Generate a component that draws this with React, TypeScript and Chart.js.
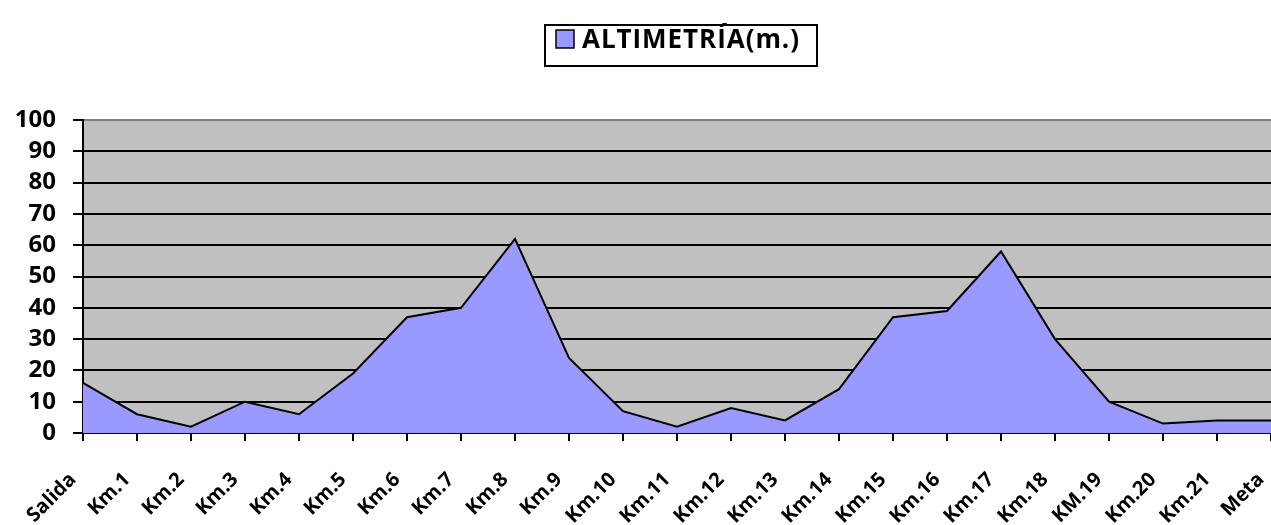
import React, { useEffect, useRef } from "react";
import { Chart, registerables } from "chart.js";

Chart.register(...registerables);

const categories = [
  "Salida", "Km.1", "Km.2", "Km.3", "Km.4", "Km.5", "Km.6", "Km.7", "Km.8", "Km.9",
  "Km.10", "Km.11", "Km.12", "Km.13", "Km.14", "Km.15", "Km.16", "Km.17", "Km.18",
  "KM.19", "Km.20", "Km.21", "Meta",
];
const altitudes = [16, 6, 2, 10, 6, 19, 37, 40, 62, 24, 7, 2, 8, 4, 14, 37, 39, 58, 30, 10, 3, 4, 4];
const seriesLabel = "ALTIMETRÍA(m.)";

const FONT = "'Open Sans', Lato, sans-serif";

const plotBg = {
  id: "plotBg",
  beforeDraw(chart: any) {
    const { ctx, chartArea } = chart;
    ctx.save();
    ctx.fillStyle = "#C0C0C0";
    ctx.fillRect(chartArea.left, chartArea.top, chartArea.right - chartArea.left, chartArea.bottom - chartArea.top);
    ctx.restore();
  },
};

const boxLegend = {
  id: "boxLegend",
  afterDraw(chart: any) {
    const { ctx } = chart;
    ctx.save();
    const bx = 545, by = 25, bw = 272, bh = 41;
    ctx.fillStyle = "#FFFFFF";
    ctx.fillRect(bx, by, bw, bh);
    ctx.lineWidth = 2;
    ctx.strokeStyle = "#000000";
    ctx.strokeRect(bx, by, bw, bh);
    ctx.fillStyle = "#9999FF";
    ctx.fillRect(556, 30, 18, 18);
    ctx.lineWidth = 1.5;
    ctx.strokeRect(556, 30, 18, 18);
    ctx.fillStyle = "#000000";
    const text = chart.data.datasets[0].label;
    ctx.font = `bold 26px ${FONT}`;
    const w = ctx.measureText(text).width;
    const spacing = Math.max(0, (218 - w) / text.length);
    (ctx as any).letterSpacing = `${spacing.toFixed(2)}px`;
    ctx.textBaseline = "alphabetic";
    ctx.textAlign = "left";
    ctx.fillText(text, 582, 48);
    ctx.restore();
  },
};

export default function App() {
  const ref = useRef<HTMLCanvasElement>(null);
  useEffect(() => {
    document.body.style.margin = "0";
    const chart = new Chart(ref.current!, {
      type: "line",
      data: {
        labels: categories,
        datasets: [
          {
            label: seriesLabel,
            data: altitudes,
            fill: "origin",
            backgroundColor: "#9999FF",
            borderColor: "#000000",
            borderWidth: 2,
            pointRadius: 0,
            tension: 0,
          },
        ],
      },
      options: {
        animation: false,
        responsive: false,
        layout: { padding: { top: 120, left: 0, right: 0, bottom: 0 } },
        plugins: { legend: { display: false }, tooltip: { enabled: false } },
        scales: {
          x: {
            offset: false,
            afterFit(scale: any) {
              scale.paddingRight = 0;
              scale.paddingLeft = 0;
              scale.height = 92;
            },
            grid: {
              drawOnChartArea: false,
              drawTicks: true,
              tickLength: 8,
              color: "#000000",
              lineWidth: 2,
            },
            border: { color: "#000000", width: 2 },
            ticks: {
              color: "#000000",
              font: { family: FONT, size: 20, weight: "bold" },
              maxRotation: 45,
              minRotation: 45,
              autoSkip: false,
              padding: 27,
              labelOffset: -10,
            },
          },
          y: {
            min: 0,
            max: 100,
            afterFit(scale: any) {
              scale.width = 83;
            },
            grid: {
              color: (c: any) => (c.tick && c.tick.value === 100 ? "#808080" : "#000000"),
              tickColor: "#000000",
              lineWidth: 2,
              tickLength: 10,
              drawTicks: true,
            },
            border: { color: "#000000", width: 2 },
            ticks: {
              stepSize: 10,
              autoSkip: false,
              color: "#000000",
              font: { family: FONT, size: 24, weight: "bold" },
              padding: 17,
            },
          },
        },
      },
      plugins: [plotBg, boxLegend],
    });
    return () => chart.destroy();
  }, []);
  return (
    <div style={{ width: 1271, height: 525, overflow: "hidden" }}>
      <canvas ref={ref} width={1271} height={525} />
    </div>
  );
}
